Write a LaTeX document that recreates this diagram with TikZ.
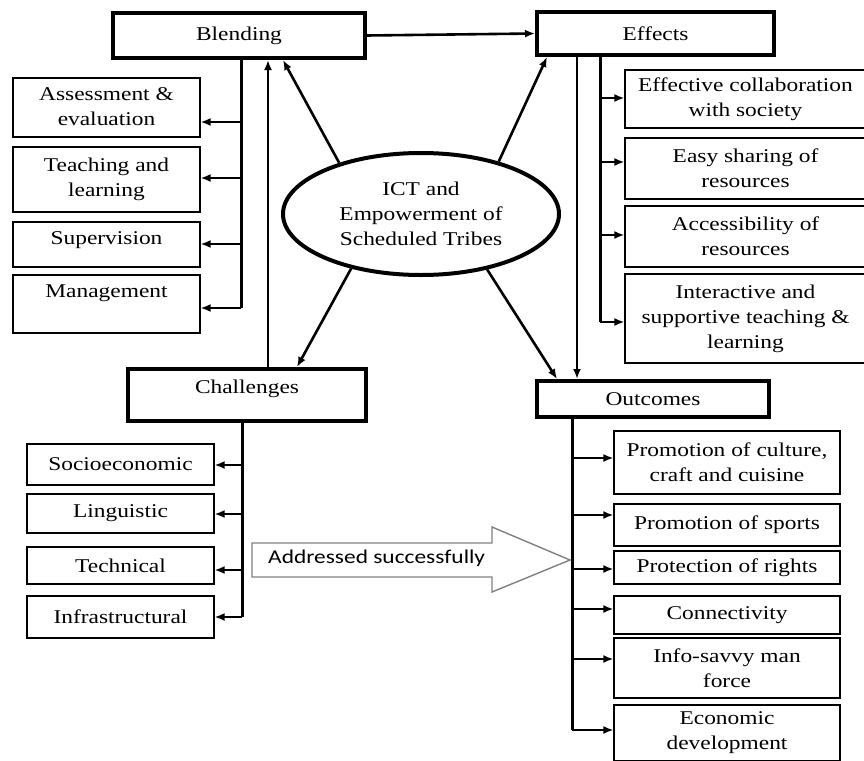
\documentclass[tikz,border=0pt]{standalone}
\usepackage{fontspec}
\setmainfont{Liberation Serif}[FakeStretch=1.2]
\newfontfamily\calib{Carlito}[FakeStretch=1.2]
\usetikzlibrary{arrows.meta}
\usetikzlibrary{shapes.geometric}

\begin{document}
\begin{tikzpicture}[x=1pt,y=-1pt,
  font=\fontsize{19.5}{25}\selectfont,
  >={Latex[length=10pt,width=8pt]},
  hub/.style={draw, line width=4pt, align=center, inner sep=0pt},
  leaf/.style={draw, line width=1.4pt, align=center, inner sep=0pt},
  link/.style={->, line width=2.6pt},
  trunk/.style={line width=3pt},
  twig/.style={->, line width=1.6pt}]
\useasboundingbox (0,0) rectangle (864,760);
\node[hub, minimum width=252, minimum height=45] (blend) at (239,35.5) {Blending};
\node[hub, minimum width=237, minimum height=43] (eff) at (655.5,33.5) {Effects};
\node[hub, minimum width=238, minimum height=52, text depth=17pt] (chal) at (247,395) {Challenges};
\node[hub, minimum width=232, minimum height=36] (outc) at (653,399) {Outcomes};
\node[hub, ellipse, minimum width=276, minimum height=122] (ict) at (421,214) {ICT and\\Empowerment of\\Scheduled Tribes};
\foreach \n/\y/\h/\d/\t in {assess/107.5/59/1/{Assessment \&\\evaluation},
  teach/179.5/65/4/{Teaching and\\learning},
  superv/244.5/45/12/Supervision,
  mgmt/304/58/25/Management}
  \node[leaf, text depth=\d pt, minimum width=187, minimum height=\h] (\n) at (106.5,\y) {\t};
\foreach \n/\y/\h/\t in {collab/99/58/{Effective collaboration\\with society},
  share/168.5/61/{Easy sharing of\\resources},
  access/236.5/61/{Accessibility of\\resources},
  inter/318.5/89/{Interactive and\\supportive teaching \&\\learning}}
  \node[leaf, minimum width=241, minimum height=\h] (\n) at (745.5,\y) {\t};
\foreach \n/\y/\h/\t in {socio/464.5/41/Socioeconomic, ling/513.5/39/Linguistic,
  tech/565.5/37/Technical, infra/617/42/Infrastructural}
  \node[leaf, minimum width=187, minimum height=\h] (\n) at (120.5,\y) {\t};
\foreach \n/\y/\h/\t in {cult/462.5/63/{Promotion of culture,\\craft and cuisine},
  sport/525/42/Promotion of sports, rights/567.5/33/Protection of rights,
  conn/615/38/Connectivity, info/668/60/{Info-savvy man\\force},
  econ/733/56/{Economic\\development}}
  \node[leaf, minimum width=226, minimum height=\h] (\n) at (727,\y) {\t};
\draw[gray, line width=1.4pt, fill=white] (252,543) -- (492,543) -- (492,527) -- (570,560)
  -- (492,592) -- (492,577) -- (252,577) -- cycle;
\node[anchor=base west, font=\calib\fontsize{19.5}{23}\selectfont, inner sep=0pt] (addr) at (268,563) {Addressed successfully};
\foreach \n/\y in {assess/122, teach/178, superv/244, mgmt/308} {
  \coordinate (j-\n) at (241,\y);
  \draw[twig] (j-\n) -- (j-\n -| \n.east);
}
\draw[trunk] (blend.south -| j-assess) -- (j-mgmt);
\foreach \n/\y in {collab/98, share/162, access/235, inter/322} {
  \coordinate (j-\n) at (600,\y);
  \draw[twig] (j-\n) -- (j-\n -| \n.west);
}
\draw[trunk] (eff.south -| j-collab) -- (j-inter);
\foreach \n/\y in {socio/465, ling/514, tech/570, infra/617} {
  \coordinate (j-\n) at (242,\y);
  \draw[twig] (j-\n) -- (j-\n -| \n.east);
}
\draw[trunk] (chal.south -| j-socio) -- (j-infra);
\foreach \n/\y in {cult/458, sport/515, rights/569, conn/609, info/659, econ/730} {
  \coordinate (j-\n) at (572,\y);
  \draw[twig] (j-\n) -- (j-\n -| \n.west);
}
\draw[trunk] (outc.south -| j-cult) -- (j-econ);
\coordinate (p1) at (283,0);
\coordinate (p2) at (547,0);
\coordinate (p3) at (297,0);
\coordinate (p4) at (557,0);
\coordinate (up) at (268,0);
\coordinate (dn) at (577,0);
\draw[link] (ict.148) -- (blend.south -| p1);
\draw[link] (ict.34) -- (eff.south -| p2);
\draw[link] (ict.218) -- (chal.north -| p3);
\draw[link] (ict.320) -- (outc.north -| p4);
\draw[link] (blend.east) -- (eff.west);
\draw[link] (chal.north -| up) -- (blend.south -| up);
\draw[link] (eff.south -| dn) -- (outc.north -| dn);
\end{tikzpicture}
\end{document}
